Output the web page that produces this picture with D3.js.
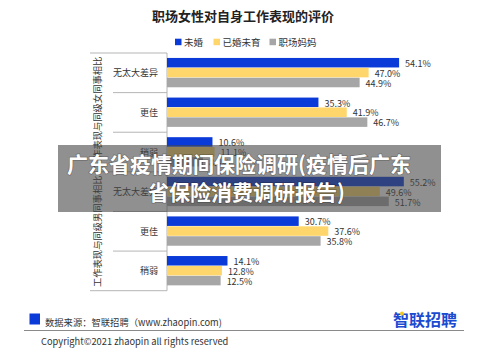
<!DOCTYPE html>
<html>
<head>
<meta charset="utf-8">
<script src="https://cdn.jsdelivr.net/npm/d3@7/dist/d3.min.js"></script>
<style>
  html, body { margin: 0; padding: 0; background: #fff; }
  svg { display: block; }
  text { font-family: "Noto Sans CJK SC", "Noto Sans", sans-serif; }
</style>
</head>
<body>
<svg id="chart" width="500" height="358"></svg>
<script>
// ---- data ----
const title = "职场女性对自身工作表现的评价";
const groups = ["工作表现与同级女同事相比", "工作表现与同级男同事相比"];
const categories = ["无太大差异", "更佳", "稍弱"];
const seriesNames = ["未婚", "已婚未育", "职场妈妈"];
const unmarried = [54.1, 35.3, 10.6, 55.2, 30.7, 14.1];
const marriedNoKids = [47.0, 41.9, 11.1, 49.6, 37.6, 12.8];
const workingMoms = [44.9, 46.7, 8.4, 51.7, 35.8, 12.5];
const sourceText = "数据来源：智联招聘（www.zhaopin.com)";
const copyrightText = "Copyright©2021 zhaopin all rights reserved";
const logoText = "智联招聘";
const overlayLines = ["广东省疫情期间保险调研(疫情后广东", "省保险消费调研报告)"];

// ---- build ----
const colors = ["#0a3ad8", "#fed66c", "#a6a6a6"];
const seriesValues = [unmarried, marriedNoKids, workingMoms];
const rows = [];
groups.forEach((g, gi) => categories.forEach((c, ci) => rows.push({ g: gi, c, idx: gi * categories.length + ci })));

const svg = d3.select("#chart");
const tableTop = 53, tableBottom = 290.7, tableLeft = 90, catLeft = 113, axisX = 167;

const y = d3.scaleBand().domain(rows.map(r => r.idx)).range([tableTop, tableBottom]).paddingInner(0.25).paddingOuter(0.125);
const ySub = d3.scaleBand().domain(seriesNames).range([0, y.bandwidth()]).padding(0.0);
const x = d3.scaleLinear().domain([0, 100]).range([axisX, 596]);
const step = y.step();

// title
svg.append("text").attr("x", 243).attr("y", 15).attr("text-anchor", "middle")
  .attr("dominant-baseline", "central").attr("font-size", 13).attr("font-weight", "bold")
  .attr("fill", "#222").text(title);

// legend
const legendX = [175, 213.5, 269.5];
seriesNames.forEach((s, i) => {
  const lg = svg.append("g").attr("transform", `translate(${legendX[i]},42)`);
  lg.append("rect").attr("x", 0).attr("y", -3.3).attr("width", 6.5).attr("height", 6.5).attr("fill", colors[i]);
  lg.append("text").attr("x", 9).attr("y", 0).attr("dominant-baseline", "central")
    .attr("font-size", 9.5).attr("fill", "#333").text(s);
});

// table lines
const lineColor = "#b5b5b5";
const grid = svg.append("g").attr("stroke", lineColor).attr("stroke-width", 1);
const boundaries = d3.range(rows.length + 1).map(i => tableTop + step * i);
boundaries.forEach((b, i) => {
  const full = i % categories.length === 0;
  grid.append("line").attr("x1", full ? tableLeft : catLeft).attr("x2", axisX)
    .attr("y1", b).attr("y2", b);
});
grid.append("line").attr("x1", axisX).attr("x2", axisX).attr("y1", tableTop).attr("y2", tableBottom);

// group labels (rotated)
groups.forEach((g, gi) => {
  const cy = tableTop + step * categories.length * (gi + 0.5);
  svg.append("text").attr("transform", `translate(97,${cy}) rotate(-90)`)
    .attr("text-anchor", "middle").attr("dominant-baseline", "central")
    .attr("font-size", 9.3).attr("fill", "#333").text(g);
});

// category labels
rows.forEach(r => {
  svg.append("text").attr("x", 158).attr("y", y(r.idx) + y.bandwidth() / 2)
    .attr("text-anchor", "end").attr("dominant-baseline", "central")
    .attr("font-size", 9).attr("fill", "#333").text(r.c);
});

// bars + value labels
seriesNames.forEach((s, si) => {
  const vals = seriesValues[si];
  const g = svg.append("g");
  g.selectAll("rect").data(rows).join("rect")
    .attr("x", x(0))
    .attr("y", r => y(r.idx) + ySub(s))
    .attr("width", r => x(vals[r.idx]) - x(0))
    .attr("height", ySub.bandwidth() - 0.4)
    .attr("fill", colors[si]);
  g.selectAll("text").data(rows).join("text")
    .attr("x", r => x(vals[r.idx]) + 6)
    .attr("y", r => y(r.idx) + ySub(s) + ySub.bandwidth() / 2 + 0.5)
    .attr("dominant-baseline", "central")
    .attr("font-size", 9).attr("fill", "#333")
    .text(r => vals[r.idx].toFixed(1) + "%");
});

// footer
svg.append("rect").attr("x", 29.5).attr("y", 313.5).attr("width", 10.5).attr("height", 11).attr("fill", "#0a3ad8");
svg.append("text").attr("x", 45).attr("y", 322).attr("dominant-baseline", "central")
  .attr("font-size", 9.3).attr("fill", "#333").text(sourceText);
svg.append("line").attr("x1", 24).attr("x2", 464).attr("y1", 330.5).attr("y2", 330.5)
  .attr("stroke", "#8a8a8a").attr("stroke-width", 1.2);
svg.append("text").attr("x", 41).attr("y", 341).attr("dominant-baseline", "central")
  .attr("font-size", 9.3).attr("fill", "#333").text(copyrightText);
svg.append("text").attr("x", 393).attr("y", 319).attr("dominant-baseline", "central")
  .attr("font-size", 16).attr("font-weight", "bold").attr("fill", "#1a4bd0").text(logoText);
svg.append("circle").attr("cx", 402).attr("cy", 313.5).attr("r", 2).attr("fill", "#f4c81a");

// watermark overlay
svg.append("rect").attr("x", 58).attr("y", 145).attr("width", 383).attr("height", 67)
  .attr("fill", "rgb(70,70,70)").attr("fill-opacity", 0.6);
const olX = [239, 246.5], olY = [163, 191];
overlayLines.forEach((t, i) => {
  svg.append("text").attr("x", olX[i]).attr("y", olY[i]).attr("text-anchor", "middle")
    .attr("dominant-baseline", "central").attr("font-size", 21).attr("font-weight", "bold")
    .attr("fill", "#fff").style("paint-order", "stroke").attr("stroke", "rgba(0,0,0,0.25)")
    .attr("stroke-width", 1.5).text(t);
});
</script>
</body>
</html>
